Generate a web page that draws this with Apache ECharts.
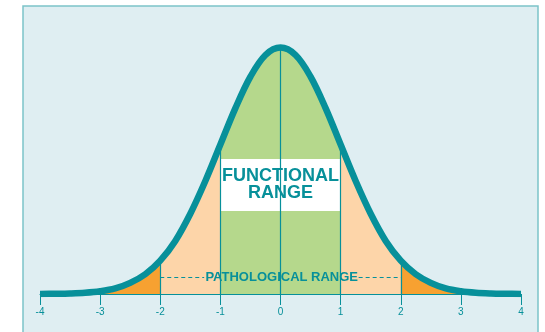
<!DOCTYPE html>
<html>
<head>
<meta charset="utf-8">
<script src="https://cdn.jsdelivr.net/npm/echarts@6/dist/echarts.min.js"></script>
<style>
  html, body { margin: 0; padding: 0; background: #ffffff; }
  #chart { width: 545px; height: 332px; }
</style>
</head>
<body>
<div id="chart"></div>
<script>
// 曲线的取样点
var xVals = [-4, -3.75, -3.5, -3.25, -3, -2.75, -2.5, -2.25, -2, -1.75, -1.5, -1.25, -1, -0.75, -0.5, -0.25,
             0, 0.25, 0.5, 0.75, 1, 1.25, 1.5, 1.75, 2, 2.25, 2.5, 2.75, 3, 3.25, 3.5, 3.75, 4];
var density = [0.0001, 0.0004, 0.0009, 0.002, 0.0044, 0.009, 0.018, 0.032, 0.054, 0.086, 0.130, 0.183, 0.242, 0.301, 0.352, 0.387,
               0.399, 0.387, 0.352, 0.301, 0.242, 0.183, 0.130, 0.086, 0.054, 0.032, 0.018, 0.009, 0.0044, 0.002, 0.0009, 0.0004, 0.0001];
var tickLabels = ['-4', '-3', '-2', '-1', '0', '1', '2', '3', '4'];
var dividers = [-2, -1, 0, 1, 2];
var functionalLabel = 'FUNCTIONAL\nRANGE';
var pathologicalLabel = 'PATHOLOGICAL RANGE';

var teal = '#07909a';
var font = '"Liberation Sans", Arial, Helvetica, sans-serif';

function pts(a, b) {
  var out = [];
  for (var i = 0; i < xVals.length; i++) {
    if (xVals[i] >= a && xVals[i] <= b) out.push([xVals[i], density[i]]);
  }
  return out;
}
function yAt(x) { return density[xVals.indexOf(x)]; }

function fill(name, a, b, color) {
  return {
    name: name, type: 'line', data: pts(a, b), smooth: 0.35,
    symbol: 'none', lineStyle: { width: 0 }, areaStyle: { color: color, opacity: 1 },
    silent: true, z: 1
  };
}

var chart = echarts.init(document.getElementById('chart'));

var option = {
  animation: false,
  backgroundColor: '#ffffff',
  graphic: [{
    type: 'rect', silent: true, z: -10,
    shape: { x: 23, y: 6, width: 515, height: 340 },
    style: { fill: '#dfeef2', stroke: '#7cc4c9', lineWidth: 1.5 }
  }],
  grid: { left: 40, right: 24, top: 47, bottom: 38 },
  xAxis: {
    type: 'value', min: -4, max: 4, interval: 1,
    axisLine: { show: true, onZero: false, lineStyle: { color: teal, width: 1 } },
    axisTick: { show: true, length: 11, lineStyle: { color: teal, width: 1 } },
    axisLabel: {
      color: teal, fontSize: 10, fontFamily: font, margin: 13,
      formatter: function (v) { return tickLabels[Math.round(v) + 4]; }
    },
    splitLine: { show: false }
  },
  yAxis: { type: 'value', min: 0, max: 0.4, show: false },
  series: [
    fill('orangeL', -4, -2, '#f7a131'),
    fill('peachL', -2, -1, '#fdd5a9'),
    fill('green', -1, 1, '#b5d88c'),
    fill('peachR', 1, 2, '#fdd5a9'),
    fill('orangeR', 2, 4, '#f7a131'),
    {
      name: 'functional', type: 'line', data: [], z: 2, silent: true,
      markArea: {
        silent: true, z: 2,
        itemStyle: { color: '#ffffff', opacity: 1 },
        label: {
          show: true, position: 'inside', color: teal, fontSize: 18, fontWeight: 'bold',
          fontFamily: font, lineHeight: 17, formatter: functionalLabel
        },
        data: [[{ coord: [-1, 0.1344] }, { coord: [1, 0.2186] }]]
      }
    },
    {
      name: 'dividers', type: 'line', data: [], z: 3, silent: true,
      markLine: {
        silent: true, symbol: 'none', z: 3,
        label: { show: false },
        lineStyle: { color: teal, width: 1.2, type: 'solid' },
        data: dividers.map(function (x) { return [{ coord: [x, 0] }, { coord: [x, yAt(x)] }]; })
      }
    },
    {
      name: 'pathological', type: 'line', data: [], z: 3, silent: true,
      markLine: {
        silent: true, symbol: 'none', z: 3,
        label: { show: false },
        lineStyle: { color: teal, width: 1, type: [4, 3] },
        data: [
          [{ coord: [-2, 0.0276] }, { coord: [-1.27, 0.0276] }],
          [{ coord: [1.3, 0.0276] }, { coord: [2, 0.0276] }]
        ]
      },
      markPoint: {
        silent: true, symbol: 'rect', symbolSize: 1, z: 3,
        itemStyle: { color: 'rgba(0,0,0,0)' },
        label: {
          show: true, position: 'inside', color: teal, fontSize: 13, fontWeight: 'bold',
          fontFamily: font, formatter: pathologicalLabel
        },
        data: [{ coord: [0.02, 0.0276] }]
      }
    },
    {
      name: 'curve', type: 'line', data: pts(-4, 4), smooth: 0.35,
      symbol: 'none', z: 4, silent: true,
      lineStyle: { color: teal, width: 6.5, cap: 'butt', join: 'round' }
    }
  ]
};

chart.setOption(option);
</script>
</body>
</html>
